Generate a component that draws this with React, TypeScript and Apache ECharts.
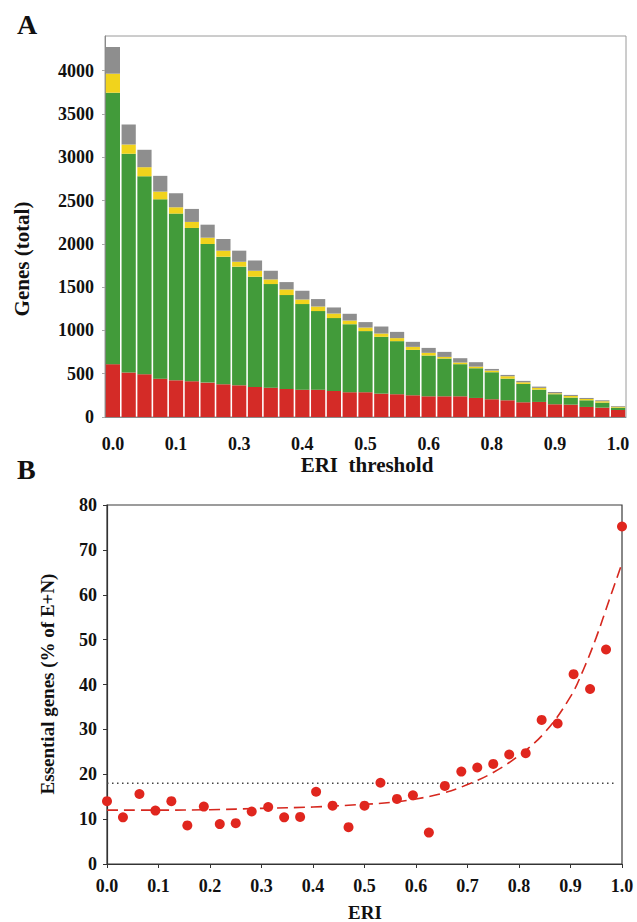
import React, { useEffect, useRef } from "react";
import * as echarts from "echarts";

// Panel A: ERI thresholds (category axis) and stacked gene counts
const thresholds = [
  0, 0.03125, 0.0625, 0.09375, 0.125, 0.15625, 0.1875, 0.21875, 0.25, 0.28125, 0.3125,
  0.34375, 0.375, 0.40625, 0.4375, 0.46875, 0.5, 0.53125, 0.5625, 0.59375, 0.625,
  0.65625, 0.6875, 0.71875, 0.75, 0.78125, 0.8125, 0.84375, 0.875, 0.90625, 0.9375,
  0.96875, 1,
];
const redCounts = [
  610, 513, 494, 443, 424, 413, 397, 378, 366, 347, 339, 324, 316, 316, 301, 286, 286,
  270, 263, 251, 239, 239, 239, 220, 205, 193, 170, 174, 147, 143, 116, 108, 81,
];
const greenCounts = [
  3135, 2527, 2286, 2071, 1925, 1770, 1601, 1473, 1370, 1273, 1196, 1084, 988, 907, 841,
  786, 706, 656, 613, 524, 471, 436, 371, 343, 312, 250, 212, 142, 116, 81, 77, 58, 27,
];
const yellowCounts = [
  220, 107, 105, 89, 73, 70, 73, 70, 57, 69, 54, 65, 53, 53, 53, 42, 41, 38, 35, 35, 31,
  19, 19, 19, 19, 28, 19, 20, 11, 19, 15, 16, 11,
];
const grayCounts = [
  308, 231, 201, 182, 162, 150, 150, 135, 128, 119, 100, 85, 101, 86, 70, 78, 63, 81, 72,
  58, 57, 58, 50, 51, 19, 15, 16, 15, 15, 12, 12, 11, 8,
];
const geneTicks = [0, 500, 1000, 1500, 2000, 2500, 3000, 3500, 4000];

// Panel B: essential genes vs ERI
const eriValues = [
  0, 0.031, 0.063, 0.094, 0.125, 0.156, 0.188, 0.219, 0.25, 0.281, 0.313, 0.344, 0.375,
  0.406, 0.438, 0.469, 0.5, 0.531, 0.563, 0.594, 0.625, 0.656, 0.688, 0.719, 0.75,
  0.781, 0.813, 0.844, 0.875, 0.906, 0.938, 0.969, 1,
];
const essentialPct = [
  14.0, 10.4, 15.6, 11.9, 14.0, 8.6, 12.8, 8.9, 9.1, 11.7, 12.7, 10.4, 10.5, 16.1, 13.0,
  8.2, 13.0, 18.1, 14.5, 15.3, 7.0, 17.4, 20.6, 21.5, 22.3, 24.4, 24.7, 32.1, 31.3, 42.3,
  39.0, 47.8, 75.2,
];
const fitX = [0, 0.1, 0.2, 0.3, 0.4, 0.5, 0.55, 0.6, 0.65, 0.7, 0.75, 0.8, 0.85, 0.9, 0.925, 0.95, 0.975, 1.0];
const fitY = [12.0, 12.0, 12.1, 12.4, 12.7, 13.3, 13.7, 14.5, 15.7, 17.7, 20.4, 24.2, 29.3, 37.3, 43.3, 50.5, 58.8, 67.0];
const baselineX = [0, 0.99];
const baselineY = [18, 18];

const SERIF = "Liberation Serif, Times New Roman, serif";

function txt(text: string, size: number) {
  return { text, fontFamily: SERIF, fontWeight: "bold", fontSize: size, fill: "#111" };
}

export default function App() {
  const ref = useRef<HTMLDivElement>(null);

  useEffect(() => {
    const chart = echarts.init(ref.current!, null, { renderer: "svg" });
    const catLabels = thresholds.map((t) => String(t));
    const labelA = { fontFamily: SERIF, fontWeight: "bold", fontSize: 18, color: "#111" };
    const labelB = { fontFamily: SERIF, fontWeight: "bold", fontSize: 18, color: "#111" };

    chart.setOption({
      animation: false,
      backgroundColor: "#ffffff",
      grid: [
        { left: 105, top: 36, width: 521, height: 381, show: true, borderColor: "#9a9a9a", borderWidth: 1, backgroundColor: "transparent" },
        { left: 107, top: 505, width: 515, height: 359, show: true, borderColor: "#3a3a3a", borderWidth: 1.2, backgroundColor: "transparent" },
      ],
      xAxis: [
        {
          type: "category",
          gridIndex: 0,
          data: catLabels,
          boundaryGap: true,
          axisLine: { lineStyle: { color: "#8a8a8a", width: 1 } },
          axisTick: { interval: 1, length: 4, lineStyle: { color: "#8a8a8a" } },
          axisLabel: {
            ...labelA,
            interval: 3,
            margin: 18,
            formatter: (v: string) => Number(v).toFixed(1),
          },
          splitLine: { show: false },
        },
        {
          type: "value",
          gridIndex: 1,
          min: 0,
          max: 1,
          interval: 0.1,
          axisLine: { lineStyle: { color: "#333", width: 1.2 } },
          axisTick: { show: true, length: 4, lineStyle: { color: "#333" } },
          axisLabel: { ...labelB, margin: 13, formatter: (v: number) => v.toFixed(1) },
          splitLine: { show: false },
        },
      ],
      yAxis: [
        {
          type: "value",
          gridIndex: 0,
          min: geneTicks[0],
          max: 4400,
          interval: 500,
          axisLine: { show: true, lineStyle: { color: "#8a8a8a", width: 1 } },
          axisTick: { show: true, length: 3, lineStyle: { color: "#aaa" } },
          axisLabel: { ...labelA, margin: 11, showMaxLabel: false, formatter: (v: number) => String(v) },
          splitLine: { show: false },
        },
        {
          type: "value",
          gridIndex: 1,
          min: 0,
          max: 80,
          interval: 10,
          axisLine: { show: true, lineStyle: { color: "#333", width: 1.2 } },
          axisTick: { show: true, length: 4, lineStyle: { color: "#333" } },
          axisLabel: { ...labelB, margin: 10, formatter: (v: number) => String(v) },
          splitLine: { show: false },
        },
      ],
      series: [
        { type: "bar", name: "red", stack: "genes", xAxisIndex: 0, yAxisIndex: 0, data: redCounts, barCategoryGap: "10%", itemStyle: { color: "#d42b27" } },
        { type: "bar", name: "green", stack: "genes", xAxisIndex: 0, yAxisIndex: 0, data: greenCounts, barCategoryGap: "10%", itemStyle: { color: "#429b3a" } },
        { type: "bar", name: "yellow", stack: "genes", xAxisIndex: 0, yAxisIndex: 0, data: yellowCounts, barCategoryGap: "10%", itemStyle: { color: "#f1d31c" } },
        { type: "bar", name: "gray", stack: "genes", xAxisIndex: 0, yAxisIndex: 0, data: grayCounts, barCategoryGap: "10%", itemStyle: { color: "#8e8e8e" } },
        {
          type: "line",
          name: "baseline",
          xAxisIndex: 1,
          yAxisIndex: 1,
          data: baselineX.map((x, i) => [x, baselineY[i]]),
          showSymbol: false,
          symbol: "none",
          lineStyle: { color: "#444", width: 1.6, type: [1.5, 3.5] },
          z: 2,
        },
        {
          type: "line",
          name: "fit",
          xAxisIndex: 1,
          yAxisIndex: 1,
          data: fitX.map((x, i) => [x, fitY[i]]),
          smooth: 0.4,
          showSymbol: false,
          symbol: "none",
          lineStyle: { color: "#d6281f", width: 1.6, type: [11, 6] },
          z: 3,
        },
        {
          type: "scatter",
          name: "essential",
          xAxisIndex: 1,
          yAxisIndex: 1,
          data: eriValues.map((x, i) => [x, essentialPct[i]]),
          symbol: "circle",
          symbolSize: 10,
          itemStyle: { color: "#e0261e", opacity: 1 },
          z: 4,
        },
      ],
      graphic: [
        { type: "text", left: 17, top: 10, style: txt("A", 28) },
        { type: "text", left: 17, top: 455, style: txt("B", 28) },
        {
          type: "text",
          x: 22,
          y: 259,
          rotation: Math.PI / 2,
          style: { ...txt("Genes (total)", 21), textAlign: "center", textVerticalAlign: "middle" },
        },
        {
          type: "text",
          x: 367,
          y: 465,
          style: { ...txt("ERI  threshold", 21), textAlign: "center", textVerticalAlign: "middle" },
        },
        {
          type: "text",
          x: 47,
          y: 684,
          rotation: Math.PI / 2,
          style: { ...txt("Essential genes (% of E+N)", 19), textAlign: "center", textVerticalAlign: "middle" },
        },
        {
          type: "text",
          x: 365,
          y: 912,
          style: { ...txt("ERI", 19), textAlign: "center", textVerticalAlign: "middle" },
        },
      ],
    });
    return () => chart.dispose();
  }, []);

  return (
    <div
      ref={ref}
      style={{ position: "absolute", left: 0, top: 0, width: 637, height: 922, background: "#ffffff" }}
    />
  );
}
